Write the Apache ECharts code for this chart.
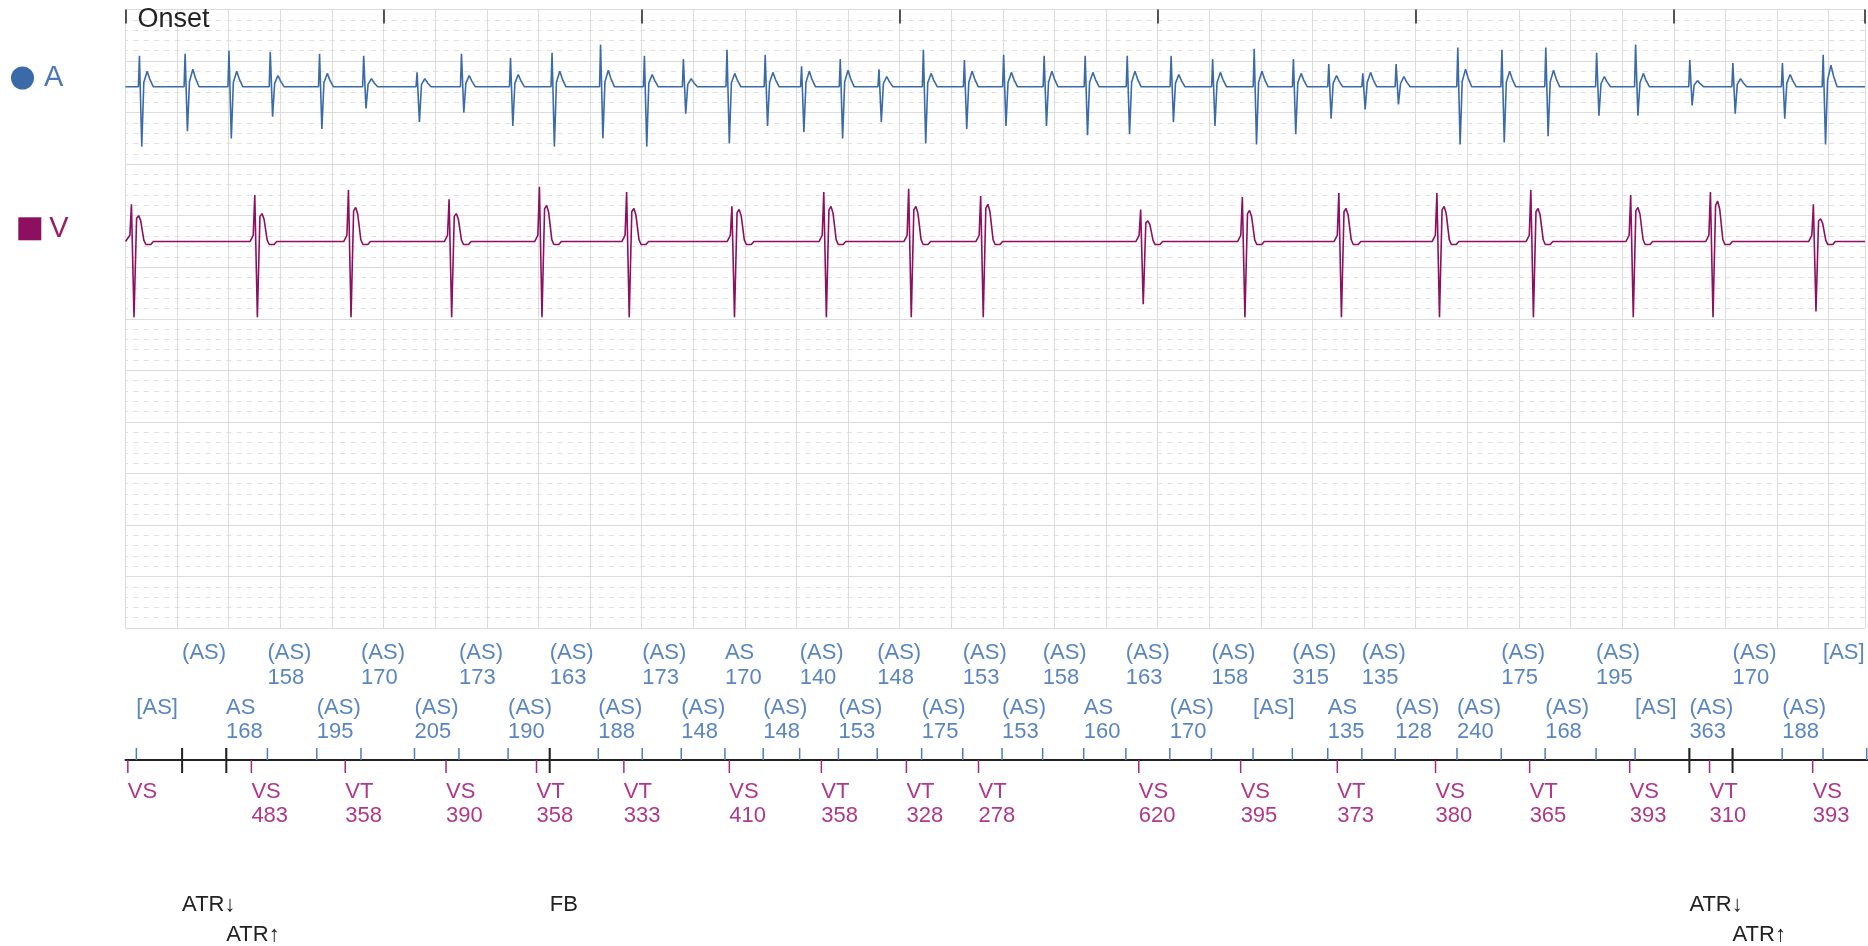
<!DOCTYPE html>
<html>
<head>
<meta charset="utf-8">
<title>EGM A / V</title>
<script src="https://cdn.jsdelivr.net/npm/echarts@6/dist/echarts.min.js"></script>
<style>
  html, body { margin: 0; padding: 0; background: #fff; }
  #chart { width: 1868px; height: 946px; }
</style>
</head>
<body>
<div id="chart"></div>
<script>
// ---- time axis (ms) ----
const X_MAX = 6741;

// ---- atrial events: marker time, marker text, interval text ----
const aTimes = [42, 219, 389, 549, 740, 911, 1118, 1290, 1480, 1641, 1829, 1999, 2150, 2319, 2467, 2608,
  2758, 2908, 3080, 3239, 3391, 3548, 3707, 3870, 4040, 4201, 4362, 4514, 4651, 4783, 4912, 5151,
  5322, 5492, 5689, 5840, 6050, 6217, 6409, 6567, 6736];
const aKinds = ['[AS]', '(AS)', 'AS', '(AS)', '(AS)', '(AS)', '(AS)', '(AS)', '(AS)', '(AS)', '(AS)', '(AS)',
  '(AS)', 'AS', '(AS)', '(AS)', '(AS)', '(AS)', '(AS)', '(AS)', '(AS)', '(AS)', 'AS', '(AS)', '(AS)', '(AS)',
  '[AS]', '(AS)', 'AS', '(AS)', '(AS)', '(AS)', '(AS)', '(AS)', '(AS)', '[AS]', '(AS)', '(AS)', '(AS)', '[AS]', '(AS)'];
const aIntervals = ['', '', '168', '158', '195', '170', '205', '173', '190', '163', '188', '173', '148', '170',
  '148', '140', '153', '148', '175', '153', '153', '158', '160', '163', '170', '158', '', '315', '135', '135',
  '128', '240', '175', '168', '195', '', '363', '170', '188', '', ''];
// atrial electrogram amplitudes per beat (mm): up spike, down spike, hump
const aUp = [3.0, 3.2, 3.5, 3.4, 3.2, 3.0, 1.4, 3.2, 2.8, 3.3, 4.1, 3.0, 2.7, 3.6, 3.1, 2.0, 2.7, 1.7, 3.6, 2.6,
  3.1, 3.0, 3.0, 3.0, 3.0, 2.7, 3.7, 2.7, 2.2, 1.3, 2.2, 3.8, 3.6, 3.8, 3.3, 4.1, 2.6, 2.3, 2.3, 3.1];
const aDown = [5.8, 4.3, 5.0, 2.9, 4.1, 2.1, 3.4, 2.5, 3.8, 5.8, 5.0, 5.8, 2.6, 5.5, 3.8, 4.4, 5.0, 3.4, 5.5, 4.1,
  3.8, 3.8, 4.7, 4.6, 3.4, 3.8, 5.6, 4.6, 3.1, 2.2, 1.7, 5.6, 5.4, 4.8, 2.8, 2.8, 1.8, 2.6, 3.1, 5.6];
const aHump = [1.5, 1.7, 1.5, 1.1, 1.3, 0.8, 0.8, 1.1, 1.2, 1.5, 1.6, 1.2, 0.8, 1.3, 1.4, 1.5, 1.6, 1.0, 1.3, 1.5,
  1.4, 1.5, 1.4, 1.5, 1.2, 1.4, 1.5, 1.3, 1.1, 1.4, 1.0, 1.7, 1.5, 1.6, 1.0, 1.3, 0.6, 0.8, 1.2, 2.1];

// ---- ventricular events ----
const vTimes = [9, 487, 850, 1240, 1590, 1928, 2336, 2692, 3021, 3300, 3920, 4314, 4688, 5068, 5432, 5819, 6128, 6527];
const vKinds = ['VS', 'VS', 'VT', 'VS', 'VT', 'VT', 'VS', 'VT', 'VT', 'VT', 'VS', 'VS', 'VT', 'VS', 'VT', 'VS', 'VT', 'VS'];
const vIntervals = ['', '483', '358', '390', '358', '333', '410', '358', '328', '278', '620', '395', '373', '380',
  '365', '393', '310', '393'];
const vUp = [3.6, 4.5, 5.0, 4.1, 5.3, 4.8, 3.4, 4.8, 5.1, 4.4, 3.1, 4.3, 4.7, 4.7, 5.0, 4.5, 4.8, 3.6];
const vDown = [7.35, 7.35, 7.35, 7.35, 7.35, 7.35, 7.35, 7.35, 7.35, 7.35, 6.1, 7.35, 7.35, 7.35, 7.35, 7.35, 7.35, 6.8];
const vHump = [2.5, 2.7, 3.3, 2.7, 3.5, 3.2, 3.1, 3.4, 3.4, 3.6, 2.0, 3.0, 3.2, 3.4, 3.2, 3.3, 3.9, 2.2];

// ---- other device events ----
const evTimes = [219, 390, 1641, 6050, 6217];
const evTexts = ['ATR↓', 'ATR↑', 'FB', 'ATR↓', 'ATR↑'];

// complex shapes: [dt ms, *up, *down, *hump, + mm]
const aShape = [[-4, 0, 0, 0, 0], [0, 1, 0, 0, 0], [9, 0, -1, 0, 0], [17, 0, 0, 0.3, 0], [30, 0, 0, 1, 0],
  [40, 0, 0, 0.5, 0], [54, 0, 0, 0, 0]];
const vShape = [[-18, 0, 0, 0, 0], [-6, 0, 0, 0, 0.6], [0, 1, 0, 0, 0], [10, 0, -1, 0, 0], [20, 0, 0, 0.9, 0],
  [28, 0, 0, 1, 0], [36, 0, 0, 0.8, 0], [48, 0, 0, 0.05, 0], [56, 0, 0, 0, -0.3], [75, 0, 0, 0, -0.3], [85, 0, 0, 0, 0]];

const A_BASE = 52.5, V_BASE = 37.5;   // channel baselines (mm on the paper)
const A_LAG = 12, V_LAG = 14;         // marker -> spike delay (ms)

const FONT = '"Liberation Sans", Arial, sans-serif';
const COL_A = '#3a6ba8', COL_V = '#8c0f60';
const COL_A_TICK = '#4f7db9', COL_A_TEXT = '#5a86c0';
const COL_V_TICK = '#a02a7c', COL_V_TEXT = '#b0388b';
const COL_EV = '#222';

function buildTrace(times, ups, downs, humps, shape, lag, base) {
  const pts = [[0, base]];
  ups.forEach((u, i) => {
    const tp = times[i] + lag;
    shape.forEach(s => pts.push([tp + s[0], base + s[1] * u + s[2] * downs[i] + s[3] * humps[i] + s[4]]));
  });
  pts.push([X_MAX, base]);
  return pts;
}

const aTrace = buildTrace(aTimes, aUp, aDown, aHump, aShape, A_LAG, A_BASE);
const vTrace = buildTrace(vTimes, vUp, vDown, vHump, vShape, V_LAG, V_BASE);

const aText = aKinds.map((k, i) => aIntervals[i] ? k + '\n' + aIntervals[i] : k);
const vText = vKinds.map((k, i) => vIntervals[i] ? k + '\n' + vIntervals[i] : k);

let aLevels = aTimes.map(() => 0);
let evLevels = evTimes.map(() => 0);

const measureCtx = document.createElement('canvas').getContext('2d');
function textWidth(str) {
  measureCtx.font = '22px "Liberation Sans"';
  return Math.max(...str.split('\n').map(s => measureCtx.measureText(s).width));
}
// put a label on the row next to the line unless it would run into the previous one there
function layoutLevels(times, texts, toPx, gap) {
  const ends = [];
  return times.map((t, i) => {
    const x = toPx(t);
    let lv = 0;
    while (ends[lv] !== undefined && x < ends[lv] + gap) lv++;
    ends[lv] = x + textWidth(texts[i]);
    return lv;
  });
}

function labelStyle(text, color) {
  return { text: text, fill: color, fontSize: 22, fontFamily: FONT, lineHeight: 24.5, align: 'left', verticalAlign: 'top' };
}

function renderA(params, api) {
  const i = params.dataIndex;
  const p = api.coord([api.value(0), 0]);
  return {
    type: 'group',
    children: [
      { type: 'line', shape: { x1: p[0], y1: p[1] - 12, x2: p[0], y2: p[1] }, style: { stroke: COL_A_TICK, lineWidth: 1.5 } },
      { type: 'text', x: p[0], y: p[1] - 64.75 - aLevels[i] * 54.5, style: labelStyle(aText[i], COL_A_TEXT) }
    ]
  };
}

function renderV(params, api) {
  const i = params.dataIndex;
  const p = api.coord([api.value(0), 0]);
  return {
    type: 'group',
    children: [
      { type: 'line', shape: { x1: p[0], y1: p[1], x2: p[0], y2: p[1] + 13 }, style: { stroke: COL_V_TICK, lineWidth: 1.5 } },
      { type: 'text', x: p[0], y: p[1] + 19.5, style: labelStyle(vText[i], COL_V_TEXT) }
    ]
  };
}

function renderEv(params, api) {
  const i = params.dataIndex;
  const p = api.coord([api.value(0), 0]);
  return {
    type: 'group',
    children: [
      { type: 'line', shape: { x1: p[0], y1: p[1] - 12, x2: p[0], y2: p[1] + 13 }, style: { stroke: COL_EV, lineWidth: 2 } },
      { type: 'text', x: p[0], y: p[1] + 132.75 + evLevels[i] * 30, style: labelStyle(evTexts[i], COL_EV) }
    ]
  };
}

const chart = echarts.init(document.getElementById('chart'));

const option = {
  animation: false,
  backgroundColor: '#fff',
  legend: [
    {
      data: [{ name: 'A', icon: 'circle', textStyle: { color: '#4a78b5' } }],
      left: 11, top: 63.5, padding: 0, itemWidth: 23, itemHeight: 23, selectedMode: false,
      textStyle: { fontSize: 29, fontFamily: FONT, lineHeight: 23, padding: [0, 0, 0, 5] }
    },
    {
      data: [{ name: 'V', icon: 'rect', textStyle: { color: '#962068' } }],
      left: 18.3, top: 214.3, padding: 0, itemWidth: 23, itemHeight: 23, selectedMode: false,
      textStyle: { fontSize: 29, fontFamily: FONT, lineHeight: 23, padding: [0, 0, 0, 3] }
    }
  ],
  grid: [
    { left: 125.5, right: 0, top: 9.5, height: 618.5 },
    { left: 125.5, right: 0, top: 640, height: 120 }
  ],
  xAxis: [
    {
      gridIndex: 0, type: 'value', min: 0, max: X_MAX, interval: 200,
      axisLine: { show: false }, axisTick: { show: false }, axisLabel: { show: false },
      splitLine: { show: true, lineStyle: { color: '#dcdcdc', width: 1 } }
    },
    {
      gridIndex: 0, type: 'value', position: 'top', min: 0, max: X_MAX, interval: 1000,
      axisLine: { show: false }, splitLine: { show: false },
      axisTick: { show: true, inside: true, length: 14, lineStyle: { color: '#222', width: 1.5 } },
      axisLabel: {
        show: true, inside: true, margin: 10, align: 'left', verticalAlign: 'middle',
        padding: [0, 0, 0, 12], color: '#222', fontSize: 27, fontFamily: FONT,
        formatter: v => (v === 0 ? 'Onset' : '')
      }
    },
    {
      gridIndex: 1, type: 'value', min: 0, max: X_MAX, position: 'bottom',
      axisLine: { show: true, onZero: false, lineStyle: { color: '#222', width: 2 } },
      axisTick: { show: false }, axisLabel: { show: false }, splitLine: { show: false }
    }
  ],
  yAxis: [
    {
      gridIndex: 0, type: 'value', min: 0, max: 60, interval: 5,
      axisLine: { show: false }, axisTick: { show: false }, axisLabel: { show: false },
      splitLine: { show: true, lineStyle: { color: '#dcdcdc', width: 1 } },
      minorTick: { show: false, splitNumber: 5 },
      minorSplitLine: { show: true, lineStyle: { color: '#e0e0e0', width: 1, type: [5.17, 5.17], dashOffset: 2.585 } }
    },
    { gridIndex: 1, type: 'value', min: 0, max: 1, show: false }
  ],
  series: [
    {
      name: 'A', type: 'line', xAxisIndex: 0, yAxisIndex: 0, data: aTrace, showSymbol: false, symbol: 'none',
      silent: true, clip: true, color: COL_A, lineStyle: { color: COL_A, width: 1.6 }
    },
    {
      name: 'V', type: 'line', xAxisIndex: 0, yAxisIndex: 0, data: vTrace, showSymbol: false, symbol: 'none',
      silent: true, clip: true, color: COL_V, lineStyle: { color: COL_V, width: 1.6 }
    },
    { id: 'aMarks', type: 'custom', xAxisIndex: 2, yAxisIndex: 1, renderItem: renderA, data: [], silent: true },
    { id: 'vMarks', type: 'custom', xAxisIndex: 2, yAxisIndex: 1, renderItem: renderV, data: [], silent: true },
    { id: 'evMarks', type: 'custom', xAxisIndex: 2, yAxisIndex: 1, renderItem: renderEv, data: [], silent: true }
  ]
};

chart.setOption(option);

// label rows need the pixel scale of the marker axis
const toPx = t => chart.convertToPixel({ xAxisIndex: 2 }, t);
aLevels = layoutLevels(aTimes, aText, toPx, 10);
evLevels = layoutLevels(evTimes, evTexts, toPx, 4);

chart.setOption({
  series: [
    { id: 'aMarks', data: aTimes.map(t => [t, 0]) },
    { id: 'vMarks', data: vTimes.map(t => [t, 0]) },
    { id: 'evMarks', data: evTimes.map(t => [t, 0]) }
  ]
});
</script>
</body>
</html>
